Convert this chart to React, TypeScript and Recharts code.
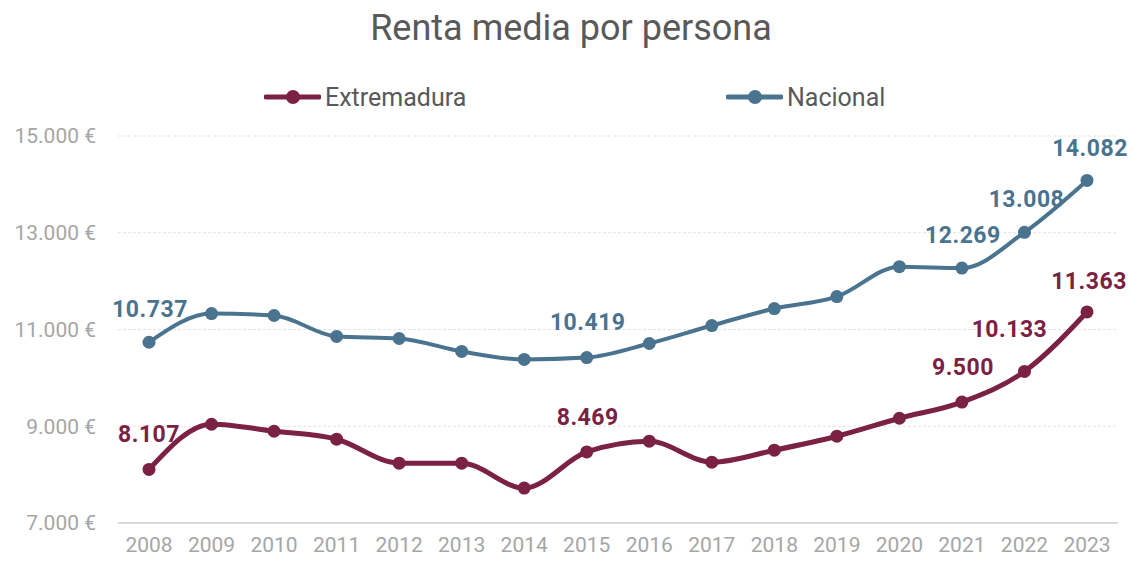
import { LineChart, Line, XAxis, YAxis, CartesianGrid, LabelList } from 'recharts';

const YEARS = ['2008', '2009', '2010', '2011', '2012', '2013', '2014', '2015', '2016', '2017', '2018', '2019', '2020', '2021', '2022', '2023'];
const EXTREMADURA = [8107, 9041, 8897, 8732, 8237, 8237, 7722, 8469, 8691, 8258, 8505, 8794, 9165, 9500, 10133, 11363];
const NACIONAL = [10737, 11330, 11290, 10856, 10814, 10546, 10381, 10419, 10711, 11082, 11433, 11680, 12299, 12269, 13008, 14082];
const Y_TICKS = [7000, 9000, 11000, 13000, 15000];
const LABELED = [0, 7, 13, 14, 15];

const EXT_COLOR = '#7B2143';
const NAC_COLOR = '#4A738F';
const FONT = 'Roboto, "Noto Sans", sans-serif';

const data = YEARS.map((y, i) => ({ year: y, Extremadura: EXTREMADURA[i], Nacional: NACIONAL[i] }));

const fmt = (v: number) => v.toLocaleString('de-DE');

function makeLabel(color: string, shifts: Record<number, [number, number]>) {
  return (props: any) => {
    const { x, y, value, index } = props;
    if (!LABELED.includes(index)) return null;
    const [dx, dy] = shifts[index] ?? [0, -33];
    return (
      <text x={x + dx} y={y + dy} textAnchor="middle" dominantBaseline="central"
        fill={color} fontSize={23} fontWeight={700} fontFamily={FONT} letterSpacing={0.5}>
        {fmt(value)}
      </text>
    );
  };
}

// legend drawn by hand, Excel style: line + dot marker, then the name
const LegendBox = () => (
  <div style={{ position: 'absolute', top: 82, left: 0, width: 1130, height: 30, fontFamily: FONT, fontSize: 25, color: '#595959' }}>
    {[[EXT_COLOR, 'Extremadura', 264], [NAC_COLOR, 'Nacional', 726]].map(([c, l, left]) => (
      <div key={l as string} style={{ position: 'absolute', left: left as number, top: 0, height: 30, display: 'flex', alignItems: 'center' }}>
        <svg width={57} height={16}>
          <line x1={2} y1={8} x2={55} y2={8} stroke={c as string} strokeWidth={5} strokeLinecap="round" />
          <circle cx={29} cy={8} r={7} fill={c as string} />
        </svg>
        <span style={{ marginLeft: 4 }}>{l}</span>
      </div>
    ))}
  </div>
);

export default function App() {
  return (
    <div style={{ position: 'absolute', left: 0, top: 0, width: 1130, height: 562, background: '#fff' }}>
      <div style={{ position: 'absolute', left: 0, top: 7, width: 1142, textAlign: 'center', fontFamily: FONT, fontSize: 36, color: '#595959' }}>
        Renta media por persona
      </div>
      <LegendBox />
      <LineChart width={1130} height={562} data={data} margin={{ top: 136, right: 12, bottom: 0, left: 0 }}>
        <CartesianGrid vertical={false} stroke="#E3E3E3" strokeDasharray="3 2" />
        <XAxis dataKey="year" padding={{ left: 31, right: 31 }} tickLine={false}
          axisLine={{ stroke: '#D9D9D9', strokeWidth: 2 }} height={39} tickSize={0} tickMargin={14}
          tick={{ fill: '#A6A6A6', fontSize: 21, fontFamily: FONT }} interval={0} />
        <YAxis domain={[7000, 15000]} ticks={Y_TICKS} width={118} axisLine={false} tickLine={false}
          tickSize={0} tickMargin={22} tickFormatter={(v: number) => `${fmt(v)} €`}
          tick={{ fill: '#A6A6A6', fontSize: 21, fontFamily: FONT }} />
        <Line type="monotone" dataKey="Extremadura" stroke={EXT_COLOR} strokeWidth={5}
          dot={{ r: 6.5, fill: EXT_COLOR, stroke: EXT_COLOR, strokeWidth: 0 }} activeDot={false} isAnimationActive={false}>
          <LabelList dataKey="Extremadura" content={makeLabel(EXT_COLOR, { 0: [0, -35], 7: [1, -34], 13: [1, -35], 14: [-15, -42], 15: [2, -30] })} />
        </Line>
        <Line type="monotone" dataKey="Nacional" stroke={NAC_COLOR} strokeWidth={4}
          dot={{ r: 6.5, fill: NAC_COLOR, stroke: NAC_COLOR, strokeWidth: 0 }} activeDot={false} isAnimationActive={false}>
          <LabelList dataKey="Nacional" content={makeLabel(NAC_COLOR, { 0: [1, -33], 7: [1, -35], 13: [1, -33], 14: [2, -33], 15: [3, -32] })} />
        </Line>
      </LineChart>
    </div>
  );
}
